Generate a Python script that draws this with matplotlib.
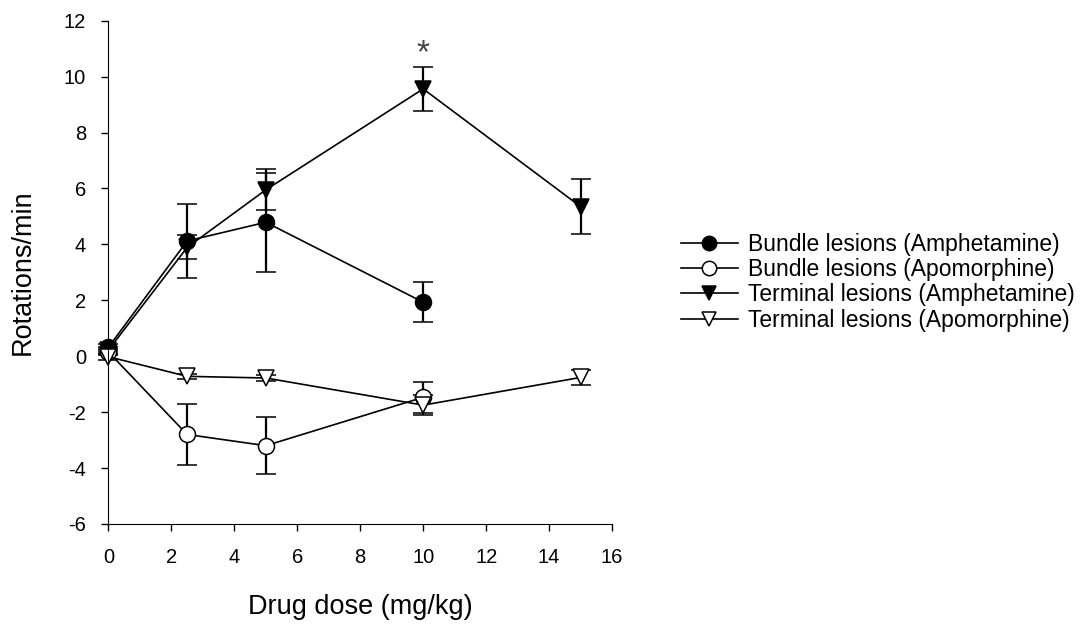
import numpy as np
import matplotlib
matplotlib.use("Agg")
from matplotlib import pyplot as plt

plt.rcParams['font.family'] = ['Liberation Sans', 'DejaVu Sans']
plt.rcParams['axes.unicode_minus'] = False

# doses (mg/kg)
dose_bundle = [0, 2.5, 5, 10]
dose_terminal = [0, 2.5, 5, 10, 15]

# bundle lesions
bundle_amph = [0.32, 4.12, 4.79, 1.93]
bundle_amph_err = [0.12, 1.34, 1.77, 0.71]
bundle_apo = [0.15, -2.8, -3.2, -1.47]
bundle_apo_err = [0.1, 1.08, 1.03, 0.56]

# terminal lesions
terminal_amph = [0.22, 3.89, 5.95, 9.56, 5.35]
terminal_amph_err = [0.12, 0.43, 0.73, 0.8, 0.97]
terminal_apo = [-0.02, -0.72, -0.78, -1.75, -0.76]
terminal_apo_err = [0.1, 0.1, 0.1, 0.35, 0.27]

labels = ["Bundle lesions (Amphetamine)", "Bundle lesions (Apomorphine)",
          "Terminal lesions (Amphetamine)", "Terminal lesions (Apomorphine)"]

fig = plt.figure(figsize=(10.9, 6.26), dpi=100)
ax = fig.add_axes([0.0995, 0.163, 0.462, 0.804])

style = dict(color='black', lw=1.2, ms=11.5, capsize=7.5, elinewidth=1.6,
             capthick=1.6, mec='black', mew=1.1, clip_on=False)

h1 = ax.errorbar(dose_bundle, bundle_amph, yerr=bundle_amph_err, marker='o',
                 mfc='black', label=labels[0], **style)
h2 = ax.errorbar(dose_bundle, bundle_apo, yerr=bundle_apo_err, marker='o',
                 mfc='white', label=labels[1], **style)
h3 = ax.errorbar(dose_terminal, terminal_amph, yerr=terminal_amph_err, marker='v',
                 mfc='black', label=labels[2], **style)
h4 = ax.errorbar(dose_terminal, terminal_apo, yerr=terminal_apo_err, marker='v',
                 mfc='white', label=labels[3], **style)

# significance marker
ax.text(10, 10.5, "*", ha='center', va='baseline', fontsize=24, color='#444444')

ax.set_xlim(0, 16)
ax.set_ylim(-6, 12)
ax.set_xticks(np.arange(0, 17, 2))
ax.set_yticks(np.arange(-6, 13, 2))
ax.spines['top'].set_visible(False)
ax.spines['right'].set_visible(False)
ax.tick_params(direction='out', length=5, width=1, labelsize=14.5)
ax.tick_params(axis='y', pad=11)
ax.tick_params(axis='x', pad=12)
ax.set_xlabel("Drug dose (mg/kg)", fontsize=19.5, labelpad=20)
ax.set_ylabel("Rotations/min", fontsize=19.5, labelpad=20)

handles = [h[0] for h in (h1, h2, h3, h4)]
fig.legend(handles, labels, loc='center left', bbox_to_anchor=(0.614, 0.549),
           frameon=False, fontsize=16.5, handlelength=2.5, handletextpad=0.45,
           labelspacing=0.1, borderpad=0, markerscale=0.9)

fig.savefig("out.png", dpi=100)
